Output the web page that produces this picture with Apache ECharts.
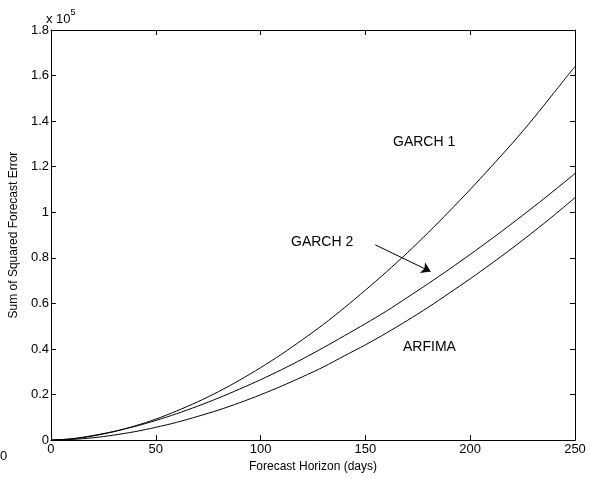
<!DOCTYPE html>
<html><head><meta charset="utf-8">
<script src="https://cdn.jsdelivr.net/npm/echarts@6/dist/echarts.min.js"></script>
<style>html,body{margin:0;padding:0;background:#fff}#c{width:589px;height:478px}</style>
</head><body><div id="c"></div>
<script>
const days = [0,10,20,30,40,50,60,70,80,90,100,110,120,130,140,150,160,170,180,190,200,210,220,230,240,250];
const garch1 = [0,0.005,0.018,0.037,0.062,0.092,0.128,0.168,0.213,0.263,0.318,0.377,0.441,0.508,0.581,0.658,0.738,0.822,0.911,1.004,1.10,1.200,1.302,1.410,1.525,1.64];
const garch2 = [0,0.006,0.020,0.038,0.060,0.086,0.116,0.149,0.185,0.224,0.265,0.309,0.356,0.406,0.458,0.511,0.566,0.626,0.687,0.750,0.815,0.882,0.951,1.022,1.095,1.17];
const arfima = [0,0.003,0.010,0.022,0.037,0.056,0.078,0.104,0.132,0.164,0.199,0.237,0.278,0.321,0.370,0.418,0.470,0.525,0.583,0.645,0.708,0.774,0.842,0.913,0.987,1.064];
const xTicks = [0,50,100,150,200,250];
const yTicks = [0,0.2,0.4,0.6,0.8,1,1.2,1.4,1.6,1.8];
const arrowFrom = [154.7, 0.857];
const arrowTo = [181.1, 0.74];

const font = 'Liberation Sans, Arial, sans-serif';
const pair = (xs, ys) => xs.map((x, i) => [x, ys[i]]);
const lineSeries = (name, ys) => ({
  name, type: 'line', data: pair(days, ys), showSymbol: false, smooth: 0.3,
  lineStyle: {color: '#000', width: 1}, silent: true, animation: false
});
const chart = echarts.init(document.getElementById('c'));
const axisCommon = () => ({
  axisLine: {show: true, onZero: false, lineStyle: {color: '#000', width: 1}},
  axisTick: {show: true, inside: true, length: 5, lineStyle: {color: '#000'}},
  splitLine: {show: false}
});
const s2 = lineSeries('GARCH 2', garch2);
s2.markLine = {
  silent: true, symbol: ['none', 'arrow'], symbolSize: 9,
  lineStyle: {color: '#000', width: 1, type: 'solid'}, label: {show: false},
  data: [[{coord: arrowFrom}, {coord: arrowTo}]]
};
chart.setOption({
  animation: false,
  grid: {left: 45, right: 14, top: 30, bottom: 32},
  xAxis: [
    Object.assign({type: 'value', min: 0, max: 250, interval: 50, position: 'bottom',
      name: 'Forecast Horizon (days)', nameLocation: 'middle', nameGap: 17,
      nameTextStyle: {fontFamily: font, fontSize: 12, color: '#000'},
      axisLabel: {fontFamily: font, fontSize: 13, color: '#000', margin: 3,
        formatter: v => xTicks.includes(v) ? String(v) : ''}}, axisCommon()),
    Object.assign({type: 'value', min: 0, max: 250, interval: 50, position: 'top',
      axisLabel: {show: false}}, axisCommon())
  ],
  yAxis: [
    Object.assign({type: 'value', min: 0, max: 1.8, interval: 0.2, position: 'left',
      name: 'Sum of Squared Forecast Error', nameLocation: 'middle', nameGap: 22,
      nameTextStyle: {fontFamily: font, fontSize: 12, color: '#000'},
      axisLabel: {fontFamily: font, fontSize: 13, color: '#000', margin: 2,
        formatter: v => { const t = yTicks.find(k => Math.abs(k - v) < 1e-6); return t === undefined ? '' : String(t); }}}, axisCommon()),
    Object.assign({type: 'value', min: 0, max: 1.8, interval: 0.2, position: 'right',
      axisLabel: {show: false}}, axisCommon())
  ],
  series: [lineSeries('GARCH 1', garch1), s2, lineSeries('ARFIMA', arfima)],
  graphic: [
    {type: 'text', left: 46, top: 8, style: {rich: {
      a: {fontFamily: font, fontSize: 13, fill: '#000', padding: [5, 0, 0, 0]},
      b: {fontFamily: font, fontSize: 9, fill: '#000', verticalAlign: 'top'}},
      text: '{a|x 10}{b|5}'}},
    {type: 'text', left: 393, top: 135, style: {text: 'GARCH 1', font: '14px ' + font, fill: '#000'}},
    {type: 'text', left: 291, top: 235, style: {text: 'GARCH 2', font: '14px ' + font, fill: '#000'}},
    {type: 'text', left: 403, top: 340, style: {text: 'ARFIMA', font: '14px ' + font, fill: '#000'}},
    {type: 'text', left: 0, top: 450, style: {text: '0', font: '13px ' + font, fill: '#000'}}
  ]
});
</script></body></html>
